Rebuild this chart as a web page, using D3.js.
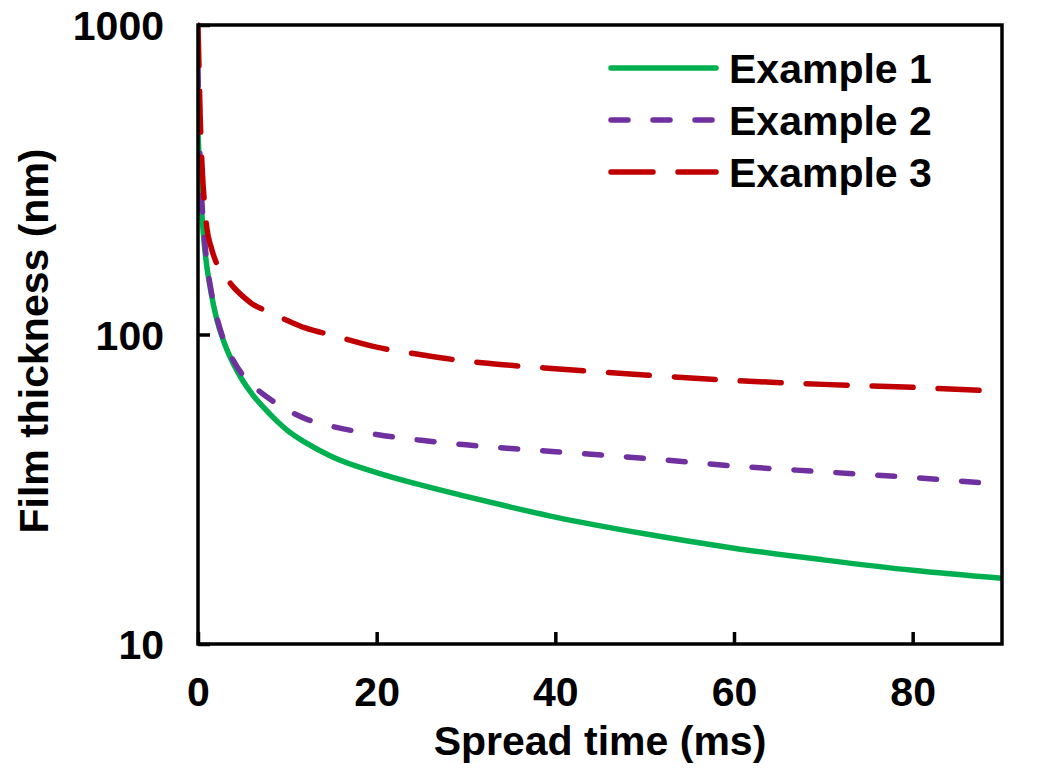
<!DOCTYPE html>
<html>
<head>
<meta charset="utf-8">
<script src="https://cdn.jsdelivr.net/npm/d3@7/dist/d3.min.js"></script>
<style>
  html, body { margin: 0; padding: 0; background: #fff; }
  svg { display: block; }
  text { font-family: "Liberation Sans", Arial, sans-serif; font-weight: bold; fill: #000; }
</style>
</head>
<body>
<svg id="chart" width="1050" height="780"></svg>
<script>
// ---- data ----
const time = [0, 0.1, 0.25, 0.5, 0.75, 1, 1.5, 2, 3, 4, 5, 6, 8, 10, 12, 15, 20, 25, 30, 35, 40, 50, 60, 70, 80, 90];
const example1 = [450, 380, 300, 230, 190, 165, 135, 115, 93, 80, 71, 64.5, 55.5, 49, 44.8, 40.3, 35.8, 32.6, 30, 27.7, 25.7, 22.7, 20.4, 18.7, 17.3, 16.3];
const example2 = [720, 500, 350, 250, 200, 170, 137, 117, 94, 82, 74, 69, 62, 57, 53.5, 50.5, 47.5, 45.5, 44, 42.8, 41.8, 39.8, 37.6, 36, 34.5, 32.8];
const example3 = [1000, 750, 500, 330, 260, 220, 190, 172, 155, 142, 133, 126, 118, 111, 105, 99.5, 91, 86, 82, 79.5, 77.5, 74, 71, 69, 67.5, 65.5];
const seriesNames = ["Example 1", "Example 2", "Example 3"];
const xTicks = [0, 20, 40, 60, 80];
const yTicks = [10, 100, 1000];
const xTitle = "Spread time (ms)";
const yTitle = "Film thickness (nm)";

(function () {
// ---- layout ----
const mLeft = 198, mRight = 1002, mTop = 25, mBottom = 644;
const fs = "41px";
const svg = d3.select("#chart");

const x = d3.scaleLinear().domain([0, 90]).range([mLeft, mRight]);
const y = d3.scaleLog().domain([10, 1000]).range([mBottom, mTop]);

const styles = [
  { color: "#00B050", dash: null },
  { color: "#7030A0", dash: "17,25" },
  { color: "#C00000", dash: "41,25" }
];
const seriesData = [example1, example2, example3];

svg.append("defs").append("clipPath").attr("id", "plotclip")
  .append("rect").attr("x", mLeft).attr("y", mTop - 4).attr("width", mRight - mLeft).attr("height", mBottom - mTop + 4);

const line = d3.line()
  .x((d, i) => x(time[i]))
  .y(d => y(d))
  .curve(d3.curveMonotoneX);

const g = svg.append("g").attr("clip-path", "url(#plotclip)");
seriesData.forEach((vals, k) => {
  g.append("path")
    .datum(vals)
    .attr("d", line)
    .attr("fill", "none")
    .attr("stroke", styles[k].color)
    .attr("stroke-width", 5.5)
    .attr("stroke-linecap", "round")
    .attr("stroke-linejoin", "round")
    .attr("stroke-dasharray", styles[k].dash);
});

const xAxis = d3.axisBottom(x).tickValues(xTicks).tickSize(-12).tickSizeOuter(0).tickPadding(0).tickFormat(d3.format("d"));
const xg = svg.append("g").attr("transform", `translate(0,${mBottom})`).call(xAxis);
xg.select(".domain").remove();
xg.selectAll(".tick line").attr("stroke", "#000").attr("stroke-width", 3.5);
xg.selectAll(".tick text").attr("y", 62).attr("dy", null)
  .style("font-family", '"Liberation Sans", Arial, sans-serif').style("font-weight", "bold").style("font-size", fs).attr("fill", "#000");

const yAxis = d3.axisLeft(y).tickValues(yTicks).tickSize(-12).tickSizeOuter(0).tickPadding(0).tickFormat(d3.format("d"));
const yg = svg.append("g").attr("transform", `translate(${mLeft},0)`).call(yAxis);
yg.select(".domain").remove();
yg.selectAll(".tick line").attr("stroke", "#000").attr("stroke-width", 3.5);
yg.selectAll(".tick text").attr("x", -34).attr("dy", "0.36em")
  .style("font-family", '"Liberation Sans", Arial, sans-serif').style("font-weight", "bold").style("font-size", fs).attr("fill", "#000");

svg.append("rect")
  .attr("x", mLeft).attr("y", mTop)
  .attr("width", mRight - mLeft).attr("height", mBottom - mTop)
  .attr("fill", "none").attr("stroke", "#000").attr("stroke-width", 3.5);

svg.append("text").attr("x", (mLeft + mRight) / 2).attr("y", 755)
  .attr("text-anchor", "middle").style("font-size", fs).text(xTitle);
svg.append("text").attr("transform", `translate(48,341) rotate(-90)`)
  .attr("text-anchor", "middle").style("font-size", fs).text(yTitle);

const legY = [68, 120, 172];
seriesNames.forEach((name, k) => {
  svg.append("line")
    .attr("x1", 611).attr("x2", 716).attr("y1", legY[k]).attr("y2", legY[k])
    .attr("stroke", styles[k].color).attr("stroke-width", 5.5)
    .attr("stroke-linecap", "round")
    .attr("stroke-dasharray", styles[k].dash === null ? null : (k === 1 ? "17,25" : "42,25"));
  svg.append("text").attr("x", 729).attr("y", legY[k] + 15)
    .style("font-size", fs).text(name);
});
})();
</script>
</body>
</html>
